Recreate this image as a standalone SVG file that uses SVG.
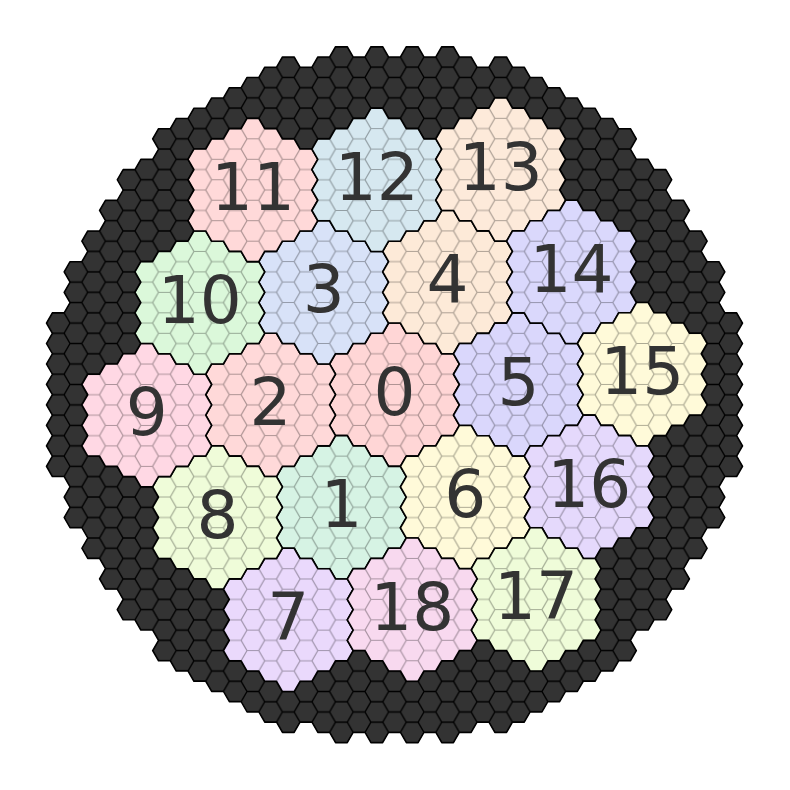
<svg xmlns="http://www.w3.org/2000/svg" xmlns:xlink="http://www.w3.org/1999/xlink" width="790" height="790" viewBox="0 0 790 790">
<style>
.ol{fill:none;stroke:#000;stroke-width:1.6;stroke-linejoin:round}
.lb{font-family:"DejaVu Sans","Liberation Sans",sans-serif;font-size:66px;fill:#333;text-anchor:middle}
</style>
<defs>
<pattern id="gd" patternUnits="userSpaceOnUse" x="394.5" y="394.7" width="35.4" height="20.47">
<path d="M29.5 10.235L23.6 20.47H11.8L5.9 10.235L11.8 0H23.6ZM0 10.235H5.9M29.5 10.235H35.4" fill="none" stroke="#000" stroke-width="1.4"/>
</pattern>
<pattern id="gl" patternUnits="userSpaceOnUse" x="0" y="0" width="35.4" height="20.47">
<path d="M29.5 10.235L23.6 20.47H11.8L5.9 10.235L11.8 0H23.6ZM0 10.235H5.9M29.5 10.235H35.4" fill="none" stroke="#000" stroke-opacity="0.32" stroke-width="1.2"/>
</pattern>
<path id="cl" d="M-5.9 -71.645H5.9L11.8 -61.41H23.6L29.5 -51.175H41.3L47.2 -40.94H59L64.9 -30.705L59 -20.47L64.9 -10.235L59 0L64.9 10.235L59 20.47L64.9 30.705L59 40.94H47.2L41.3 51.175H29.5L23.6 61.41H11.8L5.9 71.645H-5.9L-11.8 61.41H-23.6L-29.5 51.175H-41.3L-47.2 40.94H-59L-64.9 30.705L-59 20.47L-64.9 10.235L-59 0L-64.9 -10.235L-59 -20.47L-64.9 -30.705L-59 -40.94H-47.2L-41.3 -51.175H-29.5L-23.6 -61.41H-11.8Z"/>
<path id="outer" vector-effect="non-scaling-stroke" transform="translate(394.5 394.7) scale(5.9 10.235)" d="M-1 -33L1 -33 2 -34 4 -34 5 -33 7 -33 8 -34 10 -34 11 -33 13 -33 14 -32 16 -32 17 -33 19 -33 20 -32 22 -32 23 -31 25 -31 26 -30 28 -30 29 -29 31 -29 32 -28 34 -28 35 -27 37 -27 38 -26 40 -26 41 -25 40 -24 41 -23 43 -23 44 -22 46 -22 47 -21 46 -20 47 -19 49 -19 50 -18 49 -17 50 -16 52 -16 53 -15 52 -14 53 -13 55 -13 56 -12 55 -11 56 -10 55 -9 56 -8 58 -8 59 -7 58 -6 59 -5 58 -4 59 -3 58 -2 59 -1 58 0 59 1 58 2 59 3 58 4 59 5 58 6 59 7 58 8 56 8 55 9 56 10 55 11 56 12 55 13 53 13 52 14 53 15 52 16 50 16 49 17 50 18 49 19 47 19 46 20 47 21 46 22 44 22 43 23 41 23 40 24 41 25 40 26 38 26 37 27 35 27 34 28 32 28 31 29 29 29 28 30 26 30 25 31 23 31 22 32 20 32 19 33 17 33 16 32 14 32 13 33 11 33 10 34 8 34 7 33 5 33 4 34 2 34 1 33 -1 33 -2 34 -4 34 -5 33 -7 33 -8 34 -10 34 -11 33 -13 33 -14 32 -16 32 -17 33 -19 33 -20 32 -22 32 -23 31 -25 31 -26 30 -28 30 -29 29 -31 29 -32 28 -34 28 -35 27 -37 27 -38 26 -40 26 -41 25 -40 24 -41 23 -43 23 -44 22 -46 22 -47 21 -46 20 -47 19 -49 19 -50 18 -49 17 -50 16 -52 16 -53 15 -52 14 -53 13 -55 13 -56 12 -55 11 -56 10 -55 9 -56 8 -58 8 -59 7 -58 6 -59 5 -58 4 -59 3 -58 2 -59 1 -58 0 -59 -1 -58 -2 -59 -3 -58 -4 -59 -5 -58 -6 -59 -7 -58 -8 -56 -8 -55 -9 -56 -10 -55 -11 -56 -12 -55 -13 -53 -13 -52 -14 -53 -15 -52 -16 -50 -16 -49 -17 -50 -18 -49 -19 -47 -19 -46 -20 -47 -21 -46 -22 -44 -22 -43 -23 -41 -23 -40 -24 -41 -25 -40 -26 -38 -26 -37 -27 -35 -27 -34 -28 -32 -28 -31 -29 -29 -29 -28 -30 -26 -30 -25 -31 -23 -31 -22 -32 -20 -32 -19 -33 -17 -33 -16 -32 -14 -32 -13 -33 -11 -33 -10 -34 -8 -34 -7 -33 -5 -33 -4 -34 -2 -34Z"/>
<clipPath id="clipOuter"><use xlink:href="#outer" href="#outer"/></clipPath>
</defs>
<g id="border">
<use href="#outer" xlink:href="#outer" fill="#333" stroke="#000" stroke-width="1.4" stroke-linejoin="round"/>
<rect x="0" y="0" width="790" height="790" fill="url(#gd)" clip-path="url(#clipOuter)"/>
</g>
<g id="clusters">
<g id="c0" transform="translate(394.5 394.7)"><use href="#cl" fill="#ffd6d6"/><use href="#cl" fill="url(#gl)"/><use href="#cl" class="ol"/><text class="lb" y="20">0</text></g>
<g id="c1" transform="translate(341.4 507.3)"><use href="#cl" fill="#d6f3e4"/><use href="#cl" fill="url(#gl)"/><use href="#cl" class="ol"/><text class="lb" y="20">1</text></g>
<g id="c2" transform="translate(270.6 404.9)"><use href="#cl" fill="#ffd9d9"/><use href="#cl" fill="url(#gl)"/><use href="#cl" class="ol"/><text class="lb" y="20">2</text></g>
<g id="c3" transform="translate(323.7 292.3)"><use href="#cl" fill="#d8e2f8"/><use href="#cl" fill="url(#gl)"/><use href="#cl" class="ol"/><text class="lb" y="20">3</text></g>
<g id="c4" transform="translate(447.6 282.1)"><use href="#cl" fill="#fdead8"/><use href="#cl" fill="url(#gl)"/><use href="#cl" class="ol"/><text class="lb" y="20">4</text></g>
<g id="c5" transform="translate(518.4 384.5)"><use href="#cl" fill="#dad7fc"/><use href="#cl" fill="url(#gl)"/><use href="#cl" class="ol"/><text class="lb" y="20">5</text></g>
<g id="c6" transform="translate(465.3 497.1)"><use href="#cl" fill="#fffad9"/><use href="#cl" fill="url(#gl)"/><use href="#cl" class="ol"/><text class="lb" y="20">6</text></g>
<g id="c7" transform="translate(288.3 619.9)"><use href="#cl" fill="#ead9fc"/><use href="#cl" fill="url(#gl)"/><use href="#cl" class="ol"/><text class="lb" y="20">7</text></g>
<g id="c8" transform="translate(217.5 517.5)"><use href="#cl" fill="#effcd9"/><use href="#cl" fill="url(#gl)"/><use href="#cl" class="ol"/><text class="lb" y="20">8</text></g>
<g id="c9" transform="translate(146.7 415.2)"><use href="#cl" fill="#ffd8e4"/><use href="#cl" fill="url(#gl)"/><use href="#cl" class="ol"/><text class="lb" y="20">9</text></g>
<g id="c10" transform="translate(199.8 302.6)"><use href="#cl" fill="#dbf8da"/><use href="#cl" fill="url(#gl)"/><use href="#cl" class="ol"/><text class="lb" y="20">10</text></g>
<g id="c11" transform="translate(252.9 190.0)"><use href="#cl" fill="#ffd9d9"/><use href="#cl" fill="url(#gl)"/><use href="#cl" class="ol"/><text class="lb" y="20">11</text></g>
<g id="c12" transform="translate(376.8 179.8)"><use href="#cl" fill="#d6e8f0"/><use href="#cl" fill="url(#gl)"/><use href="#cl" class="ol"/><text class="lb" y="20">12</text></g>
<g id="c13" transform="translate(500.7 169.5)"><use href="#cl" fill="#fdeada"/><use href="#cl" fill="url(#gl)"/><use href="#cl" class="ol"/><text class="lb" y="20">13</text></g>
<g id="c14" transform="translate(571.5 271.9)"><use href="#cl" fill="#dad8fc"/><use href="#cl" fill="url(#gl)"/><use href="#cl" class="ol"/><text class="lb" y="20">14</text></g>
<g id="c15" transform="translate(642.3 374.2)"><use href="#cl" fill="#fffad9"/><use href="#cl" fill="url(#gl)"/><use href="#cl" class="ol"/><text class="lb" y="20">15</text></g>
<g id="c16" transform="translate(589.2 486.8)"><use href="#cl" fill="#e5d9fc"/><use href="#cl" fill="url(#gl)"/><use href="#cl" class="ol"/><text class="lb" y="20">16</text></g>
<g id="c17" transform="translate(536.1 599.4)"><use href="#cl" fill="#effcd9"/><use href="#cl" fill="url(#gl)"/><use href="#cl" class="ol"/><text class="lb" y="20">17</text></g>
<g id="c18" transform="translate(412.2 609.6)"><use href="#cl" fill="#f8d9ef"/><use href="#cl" fill="url(#gl)"/><use href="#cl" class="ol"/><text class="lb" y="20">18</text></g>
</g>
</svg>
